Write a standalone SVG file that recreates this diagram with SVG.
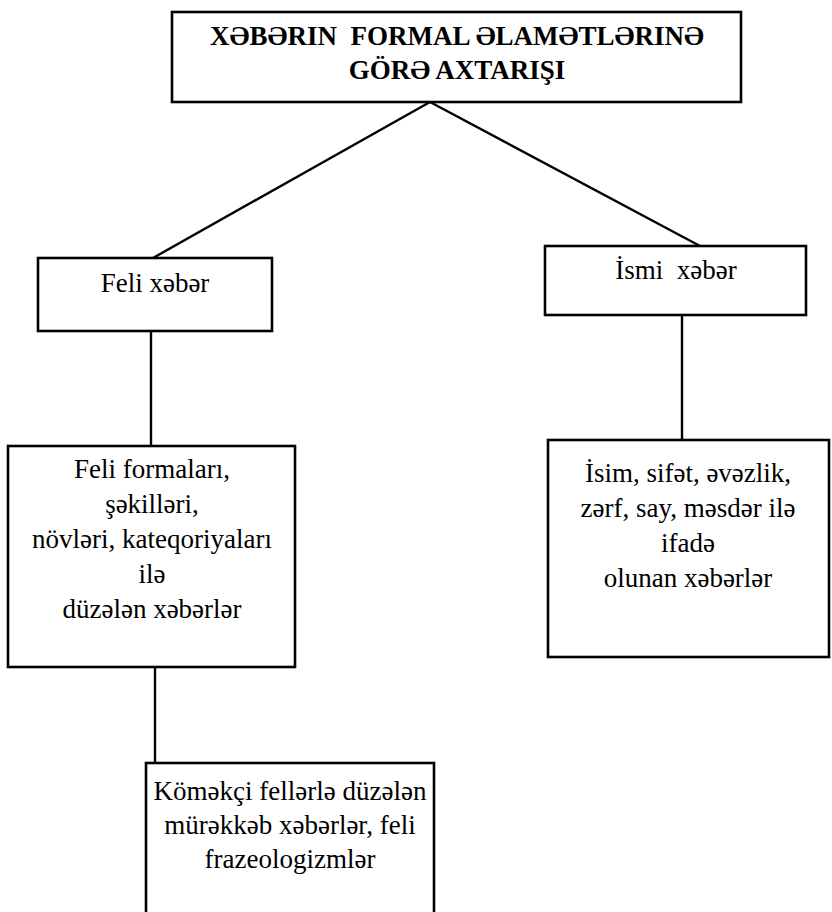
<svg xmlns="http://www.w3.org/2000/svg" width="832" height="912" viewBox="0 0 832 912">
  <style>
    .box { fill: #ffffff; stroke: #000000; stroke-width: 2.6; }
    .edge { stroke: #000000; stroke-width: 2.4; fill: none; }
    .t { font-family: "Liberation Serif", "Times New Roman", serif; font-size: 27px; fill: #000000; text-anchor: middle; white-space: pre; }
    .title { font-weight: bold; }
  </style>
  <rect width="832" height="912" fill="#ffffff"/>

  <!-- connectors -->
  <g id="connectors">
    <line class="edge" x1="430" y1="102" x2="153" y2="258"/>
    <line class="edge" x1="430" y1="102" x2="700" y2="246"/>
    <line class="edge" x1="151" y1="331" x2="151" y2="446"/>
    <line class="edge" x1="682" y1="315" x2="682" y2="440"/>
    <line class="edge" x1="155" y1="667" x2="155" y2="763"/>
  </g>

  <!-- root -->
  <g id="root">
    <rect class="box" x="172" y="12" width="569" height="90"/>
    <text class="t title" x="457" y="45">XƏBƏRIN  FORMAL ƏLAMƏTLƏRINƏ</text>
    <text class="t title" x="457" y="79">GÖRƏ AXTARIŞI</text>
  </g>

  <!-- verbal predicate -->
  <g id="feli-xeber">
    <rect class="box" x="38" y="258" width="234" height="73"/>
    <text class="t" x="155" y="292">Feli xəbər</text>
  </g>

  <!-- nominal predicate -->
  <g id="ismi-xeber">
    <rect class="box" x="545" y="246" width="261" height="69"/>
    <text class="t" x="676" y="279">İsmi  xəbər</text>
  </g>

  <g id="feli-formalar">
    <rect class="box" x="8" y="446" width="287" height="221"/>
    <text class="t" x="152" y="478">Feli formaları,</text>
    <text class="t" x="152" y="513">şəkilləri,</text>
    <text class="t" x="152" y="548">növləri, kateqoriyaları</text>
    <text class="t" x="152" y="583">ilə</text>
    <text class="t" x="152" y="618">düzələn xəbərlər</text>
  </g>

  <g id="ismi-ifade">
    <rect class="box" x="548" y="440" width="281" height="217"/>
    <text class="t" x="688" y="482">İsim, sifət, əvəzlik,</text>
    <text class="t" x="688" y="517">zərf, say, məsdər ilə</text>
    <text class="t" x="688" y="552">ifadə</text>
    <text class="t" x="688" y="587">olunan xəbərlər</text>
  </g>

  <g id="komekci">
    <rect class="box" x="146" y="763" width="288" height="160"/>
    <text class="t" x="290" y="800">Köməkçi fellərlə düzələn</text>
    <text class="t" x="290" y="834">mürəkkəb xəbərlər, feli</text>
    <text class="t" x="290" y="868">frazeologizmlər</text>
  </g>
</svg>
